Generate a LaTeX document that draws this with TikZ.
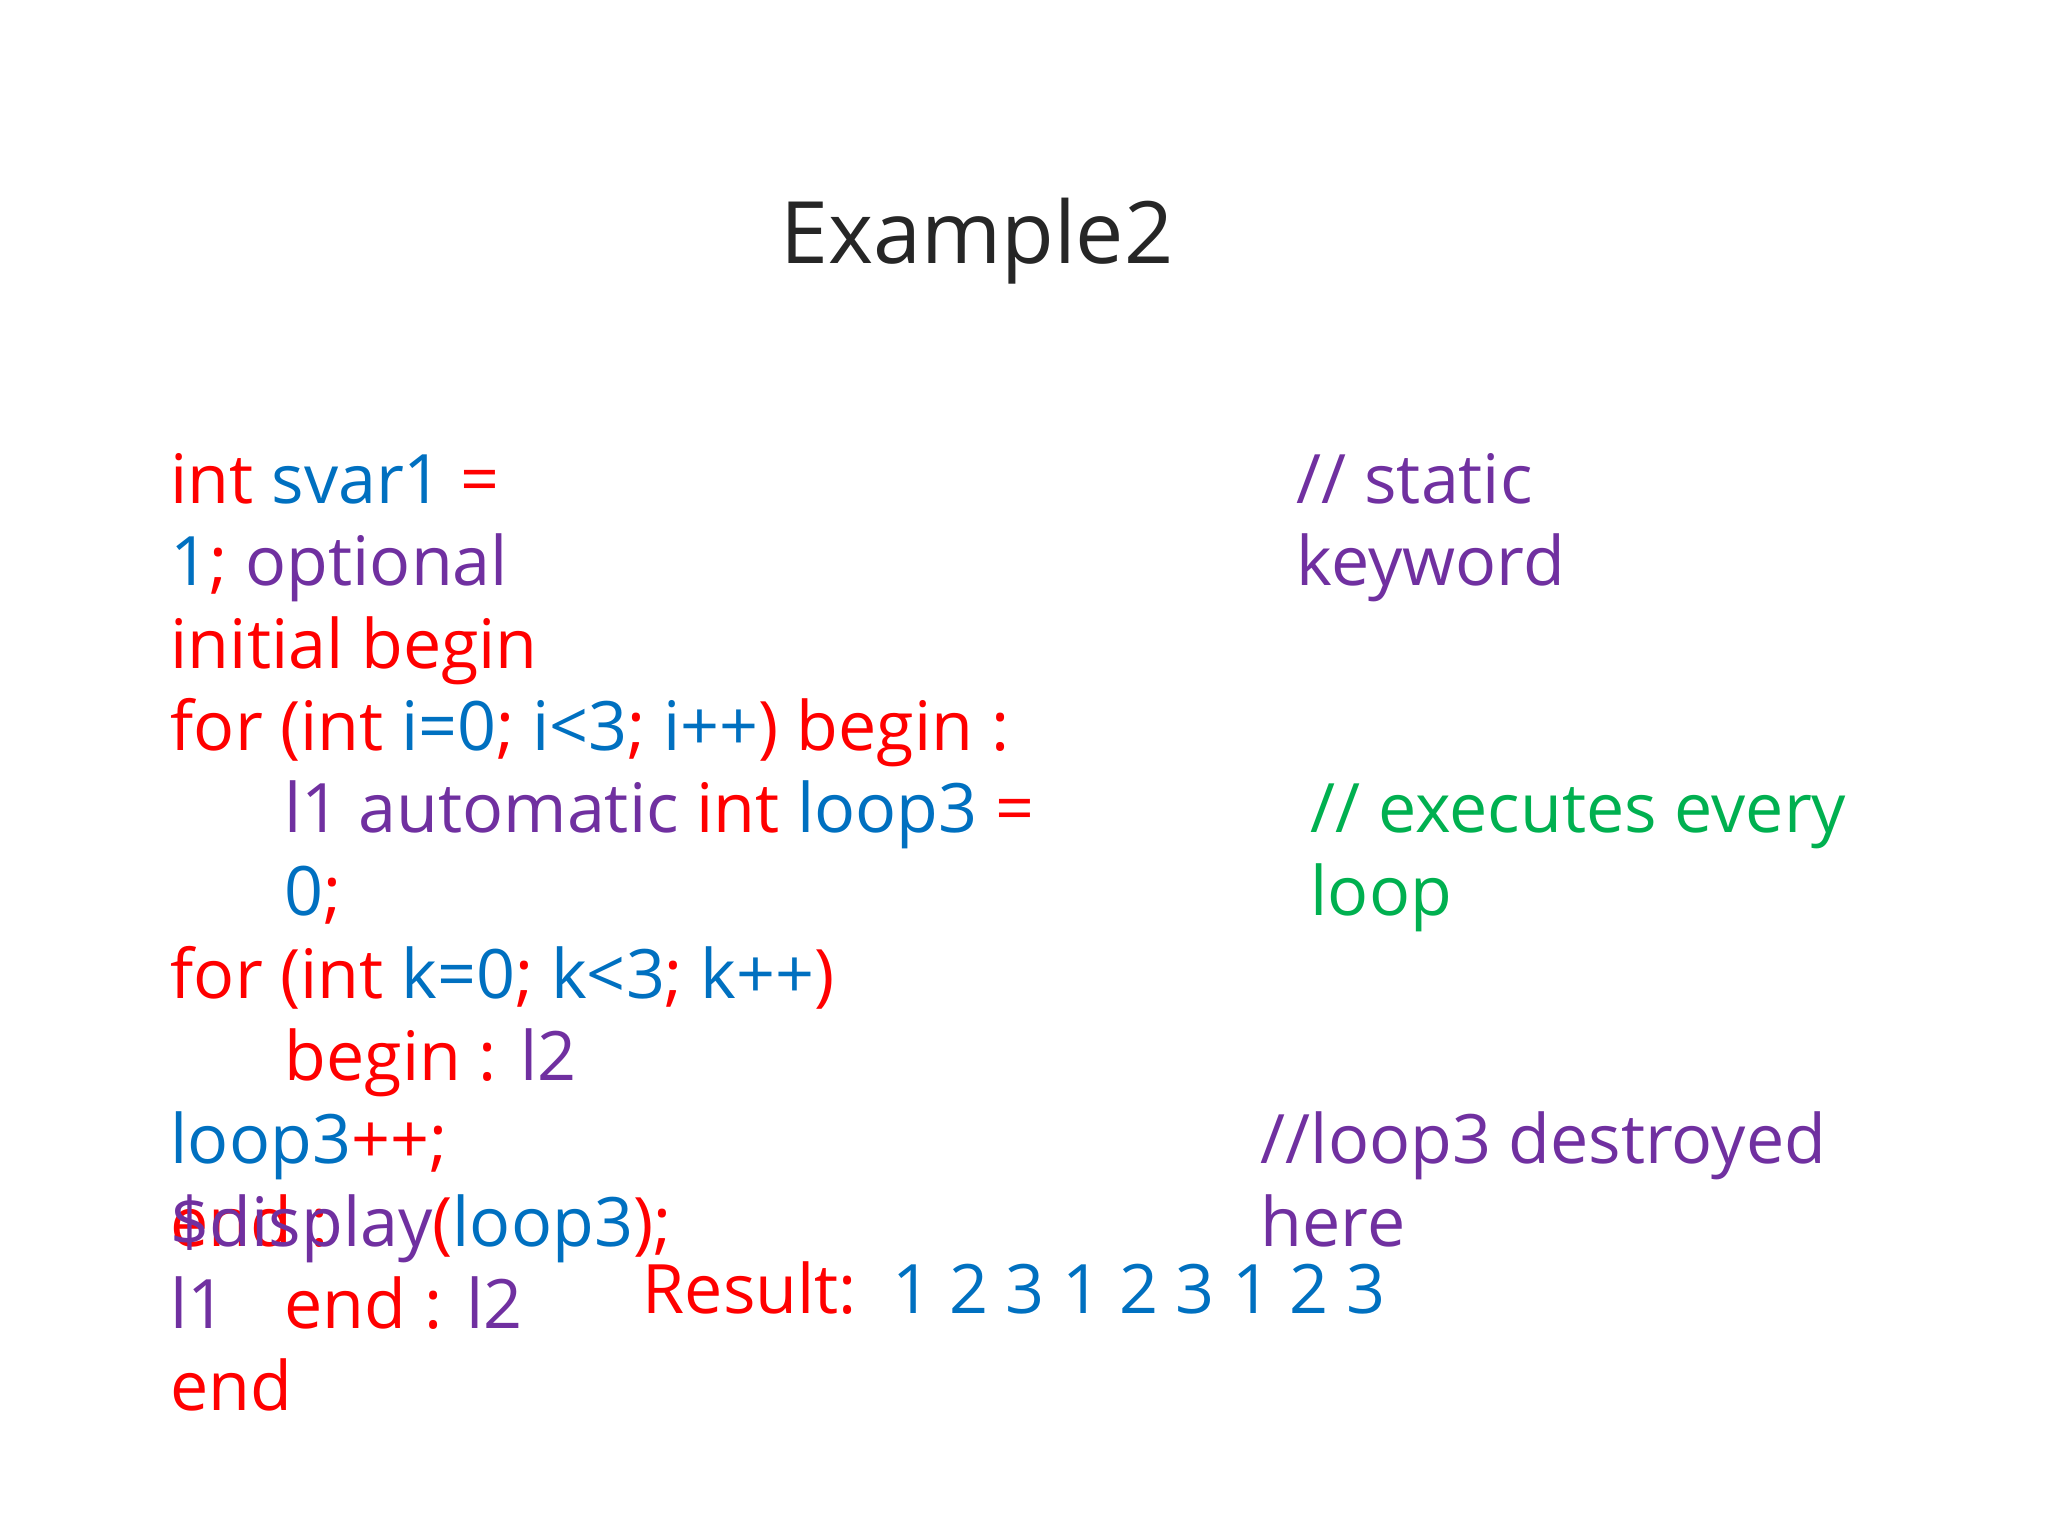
\documentclass[tikz,border=0pt]{standalone}
\usepackage{fontspec}
\setmainfont{Open Sans}
\definecolor{cr}{HTML}{FF0000}
\definecolor{cb}{HTML}{0070C0}
\definecolor{cp}{HTML}{7030A0}
\definecolor{cg}{HTML}{00B050}
\newcommand{\R}[1]{\textcolor{cr}{#1}}
\newcommand{\B}[1]{\textcolor{cb}{#1}}
\newcommand{\Pp}[1]{\textcolor{cp}{#1}}
\begin{document}
\begin{tikzpicture}[x=1cm,y=1cm,
  txt/.style={anchor=base west,inner sep=0pt,font=\fontsize{19.4}{23}\selectfont}]
\useasboundingbox (0,0) rectangle (20.48,15.36);
\node[inner sep=0pt,font=\fontsize{24.5}{28}\selectfont,text=black!85] (title) at (9.77,12.95) {Example2};
\begin{scope}[shift={(-0.04,0.04)}]
\node[txt] (l1) at (1.74,10.28) {\R{int} \B{svar1} \R{=}};
\node[txt] (l2) at (1.74,9.46) {\B{1}\R{;} \Pp{optional}};
\node[txt] (l3) at (1.74,8.63) {\R{initial begin}};
\node[txt] (l4) at (1.74,7.81) {\R{for (int }\B{i=0}\R{; }\B{i<3}\R{; }\B{i++}\R{) begin :}};
\node[txt] (l5) at (2.88,6.99) {\Pp{l1 automatic} \R{int} \B{loop3} \R{=}};
\node[txt] (l6) at (2.88,6.16) {\B{0}\R{;}};
\node[txt] (l7) at (1.74,5.33) {\R{for (int }\B{k=0}\R{; }\B{k<3}\R{; }\B{k++}\R{)}};
\node[txt] (l8) at (2.88,4.51) {\R{begin : }\Pp{l2}};
\node[txt] (l9) at (1.74,3.68) {\B{loop3}\R{++;}};
\node[txt] (l10a) at (1.74,2.85) {\R{end :}};
\node[txt] (l10b) at (1.74,2.85) {\Pp{\$display}\R{(}\B{loop3}\R{);}};
\node[txt] (l11a) at (1.74,2.03) {\Pp{l1}};
\node[txt] (l11b) at (2.88,2.03) {\R{end : }\Pp{l2}};
\node[txt] (l12) at (1.74,1.21) {\R{end}};
\node[txt] (c1) at (13.0,10.28) {\Pp{// static}};
\node[txt] (c2) at (13.0,9.46) {\Pp{keyword}};
\node[txt] (c3) at (13.14,6.99) {\textcolor{cg}{// executes every}};
\node[txt] (c4) at (13.14,6.16) {\textcolor{cg}{loop}};
\node[txt] (c5) at (12.64,3.68) {\Pp{//loop3 destroyed}};
\node[txt] (c6) at (12.64,2.85) {\Pp{here}};
\node[txt] (res) at (6.46,2.18) {\R{Result:}\ \ \B{1 2 3 1 2 3 1 2 3}};
\end{scope}
\end{tikzpicture}
\end{document}
